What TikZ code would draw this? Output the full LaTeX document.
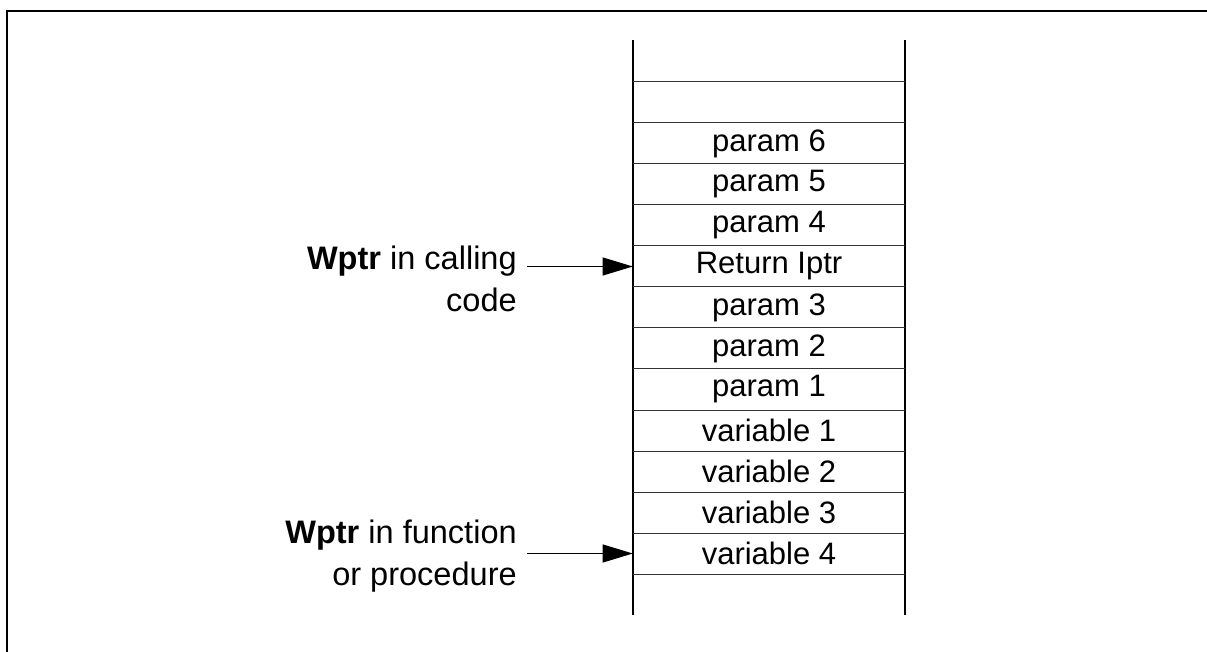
\documentclass[tikz,border=0pt]{standalone}
\usepackage{fontspec}
\setmainfont{Liberation Sans}
\usetikzlibrary{arrows.meta}

\begin{document}
\begin{tikzpicture}[x=0.75pt,y=-0.75pt,
  font=\fontsize{23.25}{31.5}\selectfont,
  stackside/.style={line width=1.5pt},
  cellline/.style={line width=0.75pt, black!80},
  slot/.style={inner sep=0pt, minimum width=204pt, minimum height=30.75pt},
  ptrlabel/.style={align=right, anchor=east, inner sep=0pt,
    font=\fontsize{24.4}{31.5}\selectfont},
  ptr/.style={line width=0.75pt, -{Triangle[length=22.5pt,width=13.5pt]}}]
  \useasboundingbox (0,0) rectangle (1207,652);

  % frame
  \draw[line width=1.5pt] (7,652) -- (7,11) -- (1207,11);

  % the stack
  \draw[stackside] (633,40) -- (633,615);
  \draw[stackside] (905,40) -- (905,615);
  \foreach \y in {82,123,...,574}
    \draw[cellline] (633,\y) -- (905,\y);

  \foreach \txt [count=\i] in {param 6,param 5,param 4,Return Iptr,param 3,param 2,param 1,variable 1,variable 2,variable 3,variable 4}
    \node[slot] (c\i) at (769,{102.5+41*\i}) {\txt};

  % workspace pointers
  \node[ptrlabel] (callwp) at (517,279) {\textbf{Wptr} in calling\\code};
  \node[ptrlabel] (funcwp) at (517,556.5) {\textbf{Wptr} in function\\or procedure};

  \draw[ptr] ([xshift=7.5pt]callwp.east |- c4.west) -- (c4.west);
  \draw[ptr] ([xshift=7.5pt]funcwp.east |- c11.west) -- (c11.west);

\end{tikzpicture}
\end{document}
